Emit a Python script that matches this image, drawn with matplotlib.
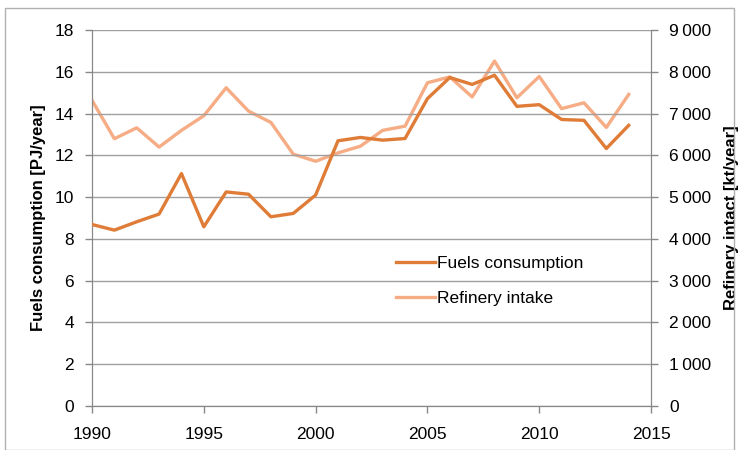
import numpy as np
import matplotlib.pyplot as plt
from matplotlib.patches import Rectangle
from matplotlib.ticker import FuncFormatter

years = list(range(1990, 2015))
fuels = [8.69, 8.42, 8.82, 9.19, 11.13, 8.58, 10.25, 10.14, 9.06, 9.22, 10.1,
         12.7, 12.86, 12.73, 12.81, 14.72, 15.73, 15.4, 15.84, 14.35, 14.43,
         13.72, 13.68, 12.33, 13.44]
refinery = [7320, 6400, 6660, 6200, 6600, 6950, 7620, 7060, 6790, 6030, 5860,
            6060, 6220, 6600, 6700, 7740, 7880, 7400, 8260, 7380, 7890,
            7120, 7260, 6670, 7460]

plt.rcParams['font.family'] = ['Liberation Sans', 'DejaVu Sans']

dark = '#DF7C38'
light = '#F6AC84'
grey = '#888888'

fig = plt.figure(figsize=(7.39, 4.5), dpi=100)
ax = fig.add_axes([0.1245, 0.098, 0.7565, 0.835])
ax2 = ax.twinx()

l1, = ax.plot(years, fuels, color=dark, lw=2.4, label='Fuels consumption', zorder=3)
l2, = ax2.plot(years, refinery, color=light, lw=2.4, label='Refinery intake', zorder=2)
ax.set_zorder(ax2.get_zorder() + 1)
ax.patch.set_visible(False)

ax.set_xlim(1990, 2015)
ax.set_xticks(range(1990, 2016, 5))
ax.set_ylim(0, 18)
ax.set_yticks(range(0, 19, 2))
ax2.set_ylim(0, 9000)
ax2.set_yticks(range(0, 9001, 1000))
ax2.yaxis.set_major_formatter(FuncFormatter(lambda v, p: f'{int(v):,}'.replace(',', '\u2009')))

ax.grid(axis='y', color='#a0a0a0', lw=1)
ax.set_axisbelow(True)

for a in (ax, ax2):
    a.spines['top'].set_visible(False)
    for s in ('left', 'right', 'bottom'):
        a.spines[s].set_color(grey)
    a.tick_params(colors=grey, labelcolor='black', labelsize=12.5, length=5, width=1, pad=8)
ax.tick_params(axis='x', pad=10)

ax.set_ylabel('Fuels consumption [PJ/year]', fontweight='bold', fontsize=12, labelpad=6)
ax2.set_ylabel('Refinery intact [kt/year]', fontweight='bold', fontsize=12, labelpad=9)

ax.legend([l1, l2], ['Fuels consumption', 'Refinery intake'], loc='upper left',
          bbox_to_anchor=(0.515, 0.44), frameon=False, fontsize=12.5,
          handlelength=2.25, handletextpad=0.15, labelspacing=1.1)

fig.patches.append(Rectangle((0.007, 0.0), 0.986, 0.982, transform=fig.transFigure,
                             fill=False, edgecolor='#b0b0b0', lw=1))

fig.savefig('out.png', dpi=100)
